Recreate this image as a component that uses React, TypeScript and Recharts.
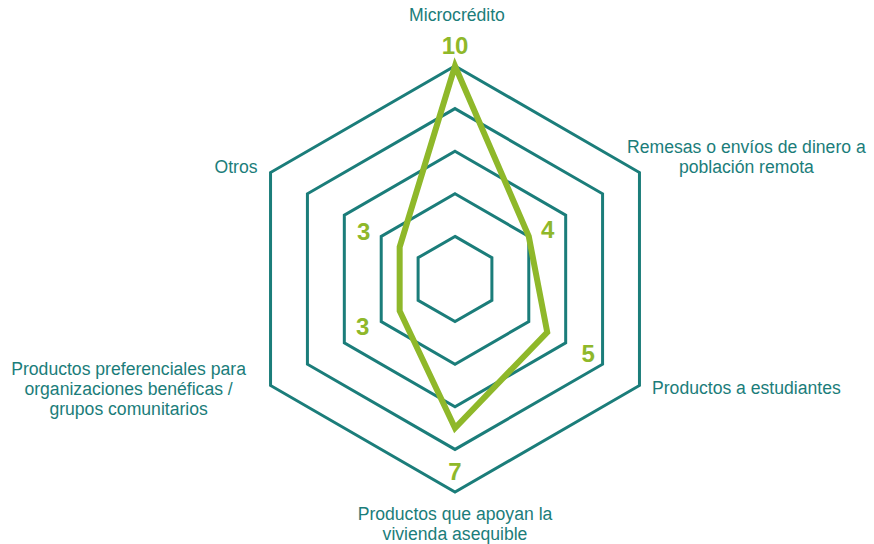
import React from "react";
import { RadarChart, Radar, PolarGrid, PolarAngleAxis, PolarRadiusAxis } from "recharts";

const categories = [
  "Microcrédito",
  "Remesas o envíos de dinero a\npoblación remota",
  "Productos a estudiantes",
  "Productos que apoyan la\nvivienda asequible",
  "Productos preferenciales para\norganizaciones benéficas /\ngrupos comunitarios",
  "Otros",
];
const values = [10, 4, 5, 7, 3, 3];
const radiusTicks = [0, 2, 4, 6, 8, 10];

const data = categories.map((c, i) => ({ name: c, value: values[i] }));

const TEAL = "#1b7d7a";
const GREEN = "#8fb82a";
const FONT = "'Liberation Sans', Arial, Helvetica, sans-serif";

// label placement (style constants, relative to library-computed anchors)
const VALUE_LABEL_OFFSETS: [number, number][] = [
  [0, -21], [19, -7], [41, 21], [0, 43], [-37, 16], [-36, -16],
];
// offset of first-line baseline from the axis tick anchor
const TICK_OFFSETS: [number, number][] = [
  [2, -37.3], [100, -15.8], [100, 4.5], [0, 20], [-135, -14.5], [-27.6, 4.2],
];
const LINE_H = 20;

const AngleTick = (props: any) => {
  const { x, y, payload, index } = props;
  const lines = String(payload.value).split("\n");
  const [dx, dy] = TICK_OFFSETS[index] || [0, 0];
  const tx = x + dx;
  const ty = y + dy;
  return (
    <text x={tx} y={ty} textAnchor="middle" fill={TEAL} fontSize={17.6} fontFamily={FONT}>
      {lines.map((l, i) => (
        <tspan key={i} x={tx} y={ty + i * LINE_H}>
          {l}
        </tspan>
      ))}
    </text>
  );
};

const ValueDot = (props: any) => {
  const { cx, cy, index } = props;
  const [dx, dy] = VALUE_LABEL_OFFSETS[index] || [0, 0];
  return (
    <text
      x={cx + dx}
      y={cy + dy + 8.5}
      textAnchor="middle"
      fill={GREEN}
      fontSize={24}
      fontWeight="bold"
      fontFamily={FONT}
    >
      {values[index]}
    </text>
  );
};

export default function App() {
  return (
    <div style={{ position: "absolute", left: 0, top: 0, width: 874, height: 544, background: "#fff" }}>
      <RadarChart
        width={874}
        height={544}
        data={data}
        cx={455}
        cy={279}
        outerRadius={213}
        startAngle={90}
        endAngle={-270}
        margin={{ top: 0, right: 0, bottom: 0, left: 0 }}
      >
        <PolarGrid gridType="polygon" radialLines={false} stroke={TEAL} strokeWidth={3} strokeOpacity={1} />
        <PolarRadiusAxis
          domain={[0, 10]}
          ticks={radiusTicks as any}
          tickCount={6}
          tick={false}
          axisLine={false}
          angle={90}
        />
        <PolarAngleAxis dataKey="name" tick={<AngleTick />} tickLine={false} axisLine={false} />
        <Radar
          dataKey="value"
          stroke={GREEN}
          strokeWidth={6}
          fill="none"
          fillOpacity={0}
          strokeLinejoin="miter"
          dot={(p: any) => <ValueDot {...p} key={`d-${p.index}`} />}
          isAnimationActive={false}
        />
      </RadarChart>
    </div>
  );
}
